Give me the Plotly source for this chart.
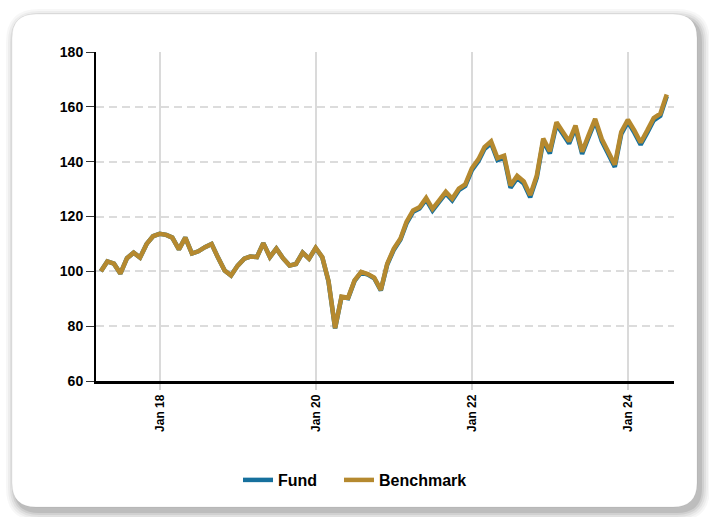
import pandas as pd
import plotly.graph_objects as go

# ---- data ----
dates = pd.date_range("2017-03-31", periods=88, freq="ME")

benchmark = [
    100.0, 103.6, 102.8, 99.2, 104.8, 106.8, 105.0, 110.0, 112.8, 113.7,
    113.3, 112.3, 108.0, 112.3, 106.5, 107.3, 108.8, 110.0, 105.0, 100.3,
    98.5, 102.1, 104.6, 105.4, 105.2, 110.3, 105.2, 108.3, 104.8, 102.1,
    102.7, 106.8, 104.6, 108.6, 105.2, 96.5, 79.3, 90.8, 90.4, 96.7,
    99.8, 99.0, 97.7, 93.2, 102.8, 108.3, 112.0, 118.0, 122.2, 123.4,
    126.8, 122.8, 125.9, 129.0, 126.5, 130.2, 131.7, 137.6, 140.9, 145.3,
    147.4, 141.3, 142.2, 131.3, 134.8, 132.8, 127.8, 135.0, 148.4, 143.8,
    154.4, 150.8, 147.4, 153.2, 143.6, 149.6, 155.6, 148.3, 143.4, 138.9,
    150.8, 155.3, 151.3, 147.0, 151.4, 155.9, 157.5, 164.5,
]

fund = [
    100.0, 103.6, 102.8, 99.2, 104.8, 106.8, 105.0, 110.0, 112.8, 113.7,
    113.3, 112.3, 108.0, 112.3, 106.5, 107.3, 108.8, 110.0, 105.0, 100.3,
    98.5, 102.1, 104.6, 105.4, 105.2, 110.3, 105.2, 108.3, 104.8, 102.1,
    102.7, 106.8, 104.6, 108.5, 105.1, 96.4, 79.2, 90.6, 90.2, 96.5,
    99.6, 98.8, 97.5, 93.0, 102.5, 107.9, 111.6, 117.5, 121.7, 122.9,
    126.2, 122.2, 125.3, 128.4, 125.9, 129.6, 131.1, 136.9, 140.2, 144.6,
    146.7, 140.6, 141.5, 130.5, 134.0, 132.0, 127.0, 134.2, 147.6, 143.0,
    153.6, 150.0, 146.6, 152.4, 142.8, 148.8, 154.8, 147.5, 142.6, 138.1,
    150.0, 154.5, 150.5, 146.2, 150.6, 155.1, 156.7, 163.8,
]

xtick_vals = ["2018-01-01", "2020-01-01", "2022-01-01", "2024-01-01"]
xtick_text = ["Jan 18", "Jan 20", "Jan 22", "Jan 24"]
ytick_vals = [60, 80, 100, 120, 140, 160, 180]

FUND_COLOR = "#16709d"
BENCH_COLOR = "#b5892f"
FONT = "Liberation Sans, Arial, sans-serif"

W, H = 709, 517
ML, MR, MT, MB = 96, 35, 52, 136
PW, PH = W - ML - MR, H - MT - MB


def px(X):
    return (X - ML) / PW


def py(Y):
    return (H - MB - Y) / PH


def rrect(x0, y0, x1, y1, r):
    pts = [
        f"M{px(x0 + r)},{py(y0)}",
        f"L{px(x1 - r)},{py(y0)}",
        f"Q{px(x1)},{py(y0)} {px(x1)},{py(y0 + r)}",
        f"L{px(x1)},{py(y1 - r)}",
        f"Q{px(x1)},{py(y1)} {px(x1 - r)},{py(y1)}",
        f"L{px(x0 + r)},{py(y1)}",
        f"Q{px(x0)},{py(y1)} {px(x0)},{py(y1 - r)}",
        f"L{px(x0)},{py(y0 + r)}",
        f"Q{px(x0)},{py(y0)} {px(x0 + r)},{py(y0)}",
        "Z",
    ]
    return " ".join(pts)


shapes = []
cx0, cy0, cx1, cy1, cr = 12, 14, 697, 507, 24
for k, a in [(9, 0.03), (7, 0.04), (5, 0.05), (3, 0.07), (1, 0.09)]:
    shapes.append(dict(
        type="path", xref="paper", yref="paper", layer="below",
        path=rrect(cx0 + 3 - k, cy0 + 4 - k, cx1 + 4 + k, cy1 + 5 + k, cr + k),
        fillcolor=f"rgba(0,0,0,{a})", line=dict(width=0),
    ))
shapes.append(dict(
    type="path", xref="paper", yref="paper", layer="below",
    path=rrect(cx0, cy0, cx1, cy1, cr),
    fillcolor="white", line=dict(color="rgba(0,0,0,0.06)", width=1),
))

fig = go.Figure()
fig.add_trace(go.Scatter(x=dates, y=fund, name="Fund", mode="lines",
                         line=dict(color=FUND_COLOR, width=4.5), legend="legend"))
fig.add_trace(go.Scatter(x=dates, y=benchmark, name="Benchmark", mode="lines",
                         line=dict(color=BENCH_COLOR, width=4.5), legend="legend2"))

legend_font = dict(family=FONT, size=16, color="black", weight="bold")

fig.update_layout(
    width=W, height=H,
    margin=dict(l=ML, r=MR, t=MT, b=MB, pad=0),
    paper_bgcolor="white",
    plot_bgcolor="rgba(0,0,0,0)",
    shapes=shapes,
    font=dict(family=FONT, color="black"),
    showlegend=True,
    legend=dict(
        orientation="h", x=px(238), xanchor="left", y=py(480), yanchor="middle",
        font=legend_font, bgcolor="rgba(0,0,0,0)", itemwidth=30,
    ),
    legend2=dict(
        orientation="h", x=px(339), xanchor="left", y=py(480), yanchor="middle",
        font=legend_font, bgcolor="rgba(0,0,0,0)", itemwidth=30,
    ),
    xaxis=dict(
        type="date",
        range=["2017-03-08", "2024-08-03"],
        tickmode="array", tickvals=xtick_vals, ticktext=xtick_text,
        tickangle=-90,
        tickfont=dict(family=FONT, size=12, color="black", weight="bold"),
        showgrid=True, gridcolor="#dadada", gridwidth=2,
        showline=True, linecolor="black", linewidth=2.5,
        ticks="outside", ticklen=6, tickwidth=2, tickcolor="#d6d6d6",
        zeroline=False,
    ),
    yaxis=dict(
        range=[60, 180],
        tickmode="array", tickvals=ytick_vals,
        tickfont=dict(family=FONT, size=14, color="black", weight="bold"),
        showgrid=True, gridcolor="#dcdcdc", gridwidth=2, griddash="8px,5px",
        showline=True, linecolor="black", linewidth=2,
        ticks="outside", ticklen=8, tickwidth=1, tickcolor="#333333",
        zeroline=False,
    ),
)

fig.write_html(
    "out.html",
    config={"displayModeBar": False},
    post_script="document.body.style.margin='0';document.body.style.overflow='hidden';",
)
